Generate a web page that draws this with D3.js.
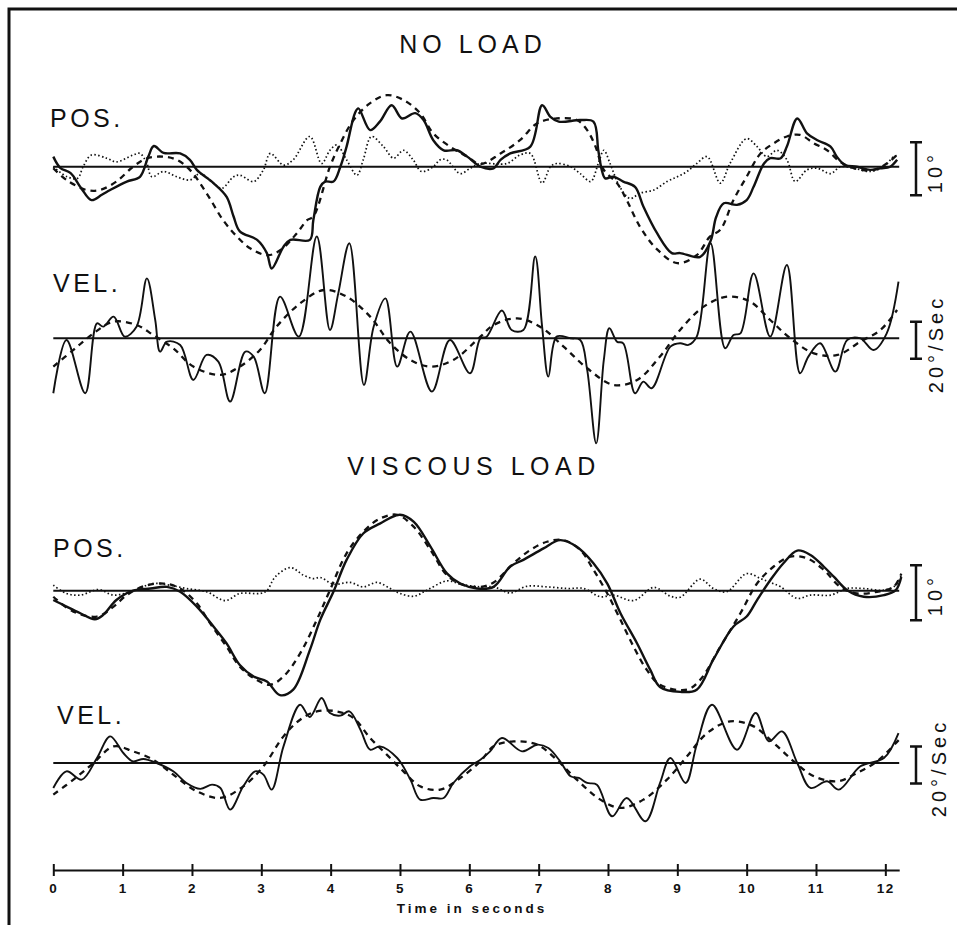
<!DOCTYPE html>
<html>
<head>
<meta charset="utf-8">
<script src="https://cdn.jsdelivr.net/npm/d3@7"></script>
<style>
  body { margin: 0; background: #fff; }
  svg text { font-family: "Liberation Sans", Arial, sans-serif; fill: #111; }
</style>
</head>
<body>
<script>
// Time axis ticks (seconds)
var timeTicks = [0, 1, 2, 3, 4, 5, 6, 7, 8, 9, 10, 11, 12];

// NO LOAD - position (deg): actual, target, dotted trace
var noLoadPosActual = [[0,1.9],[0.1,-0.2],[0.25,-1.2],[0.4,-4],[0.55,-6.3],[0.7,-5.3],[0.82,-4.4],[1.06,-2.8],[1.25,-1.9],[1.37,1.9],[1.45,3.9],[1.59,2.6],[1.83,2.5],[1.97,1.3],[2.07,-0.6],[2.31,-3.1],[2.5,-5.7],[2.6,-9.4],[2.69,-12.2],[2.94,-13.8],[3.08,-16.3],[3.15,-19.2],[3.32,-15.1],[3.42,-13.8],[3.7,-13.8],[3.75,-10.1],[3.85,-3.8],[3.92,-2.8],[4.04,-2.8],[4.14,0],[4.23,3.8],[4.35,10.1],[4.4,11],[4.57,6.9],[4.71,8.5],[4.88,11.6],[5.03,9.1],[5.22,10.1],[5.34,8.8],[5.48,5],[5.63,3.1],[5.82,3.1],[5.97,1.9],[6.16,0],[6.35,-0.3],[6.45,1.3],[6.59,2.5],[6.88,3.8],[7.05,11.6],[7.17,9.4],[7.29,8.5],[7.6,8.8],[7.79,8.5],[7.86,3.1],[7.91,-0.6],[7.96,-2.2],[8.08,-1.9],[8.22,-2.8],[8.39,-3.8],[8.51,-7.5],[8.71,-12.6],[8.92,-16.3],[9.04,-16.3],[9.33,-17],[9.48,-14],[9.56,-9.5],[9.67,-6.9],[9.86,-7.2],[10.0,-6.3],[10.1,-3.8],[10.25,0.6],[10.34,1.6],[10.49,1.6],[10.58,3.8],[10.73,9.1],[10.87,6.3],[11.02,5],[11.21,3.8],[11.3,1.9],[11.42,0.3],[11.59,0],[11.78,-0.6],[11.93,-0.3],[12.07,0],[12.17,1.3]];
var noLoadPosTarget = [[0,-0.3],[0.19,-2.5],[0.48,-4.4],[0.67,-4.4],[0.91,-2.8],[1.15,0],[1.35,1.6],[1.59,1.9],[1.78,1.3],[1.97,-0.6],[2.21,-5],[2.45,-10.1],[2.65,-13.2],[2.85,-15.5],[3.1,-16.7],[3.3,-15.5],[3.51,-12.6],[3.66,-10.1],[3.75,-9.4],[3.99,0],[4.14,4.4],[4.33,8.8],[4.57,12],[4.81,13.5],[5.05,12.6],[5.29,10.1],[5.48,6.3],[5.72,3.8],[5.97,1.9],[6.16,0.5],[6.45,2.5],[6.73,5],[6.98,8.2],[7.26,9.1],[7.55,8.8],[7.7,6.9],[7.82,3.8],[7.94,-0.6],[8.13,-3.1],[8.27,-6.3],[8.46,-11.3],[8.7,-15.5],[9.0,-18.2],[9.28,-16.7],[9.47,-13.2],[9.62,-11.9],[9.81,-6.3],[10.0,-1.9],[10.2,2.5],[10.39,4.4],[10.58,5.7],[10.77,6],[10.97,4.4],[11.16,3.1],[11.35,0.9],[11.55,-0.3],[11.83,-0.6],[12.02,0.6],[12.19,2.5]];
var noLoadPosDotted = [[0,0],[0.2,-1.9],[0.35,-2.2],[0.43,0],[0.55,2.2],[0.77,1.6],[0.91,0.9],[1.15,2.2],[1.25,2.5],[1.35,0.6],[1.42,-1.9],[1.59,-0.9],[1.78,-1.9],[1.97,-2.5],[2.12,-1.3],[2.31,-3.1],[2.43,-4.1],[2.6,-1.9],[2.69,-1.6],[2.89,-2.8],[3.03,-0.6],[3.13,2.5],[3.32,0.3],[3.46,1.3],[3.7,5.7],[3.87,0.6],[3.99,3.1],[4.09,4.1],[4.23,1.3],[4.38,-1.6],[4.47,1.3],[4.59,5.7],[4.76,3.8],[4.91,1.6],[5.05,3.1],[5.19,1.3],[5.31,-0.9],[5.48,0],[5.58,1.3],[5.67,1.3],[5.87,-1.3],[6.01,-0.3],[6.16,0.6],[6.54,0.6],[6.73,2.2],[6.88,2.5],[7.05,-3.1],[7.17,0],[7.26,0.6],[7.46,0],[7.6,-1.3],[7.75,-2.8],[7.86,0.6],[7.94,3.1],[8.03,0.6],[8.17,-3.8],[8.32,-6],[8.46,-5],[8.66,-4.4],[8.85,-2.8],[9.0,-1.9],[9.14,-0.9],[9.28,0.6],[9.43,1.9],[9.62,-3.1],[9.76,0.6],[10.0,5.3],[10.15,3.8],[10.29,1.9],[10.44,3.1],[10.58,1.3],[10.7,-2.8],[10.87,-0.6],[11.02,-0.3],[11.21,-1.3],[11.35,0],[11.55,-0.3],[11.78,-0.9],[11.98,0],[12.12,1.9],[12.19,2.2]];

// NO LOAD - velocity (deg/sec): actual, target
var noLoadVelActual = [[0,-29.7],[0.19,-0.9],[0.46,-29.7],[0.63,8.1],[0.72,6.3],[0.87,11.7],[1.03,0.9],[1.2,6.3],[1.35,32.4],[1.47,9.9],[1.54,-7.2],[1.64,-1.8],[1.83,-3.6],[2.02,-22.5],[2.21,-9],[2.38,-12.6],[2.55,-34.2],[2.77,-7.2],[2.89,-9.9],[3.05,-29.7],[3.27,22.5],[3.54,0.9],[3.8,55],[3.99,4.5],[4.11,24.3],[4.27,51.4],[4.48,-25.2],[4.62,6.3],[4.79,21.6],[4.96,-15.3],[5.15,3.6],[5.46,-28.8],[5.72,-0.9],[6.01,-18.9],[6.16,0],[6.25,0.9],[6.47,15],[6.61,4.5],[6.78,4.5],[6.95,44.2],[7.05,6.3],[7.14,-20.7],[7.26,0.9],[7.46,0],[7.6,-0.9],[7.7,-17.1],[7.83,-56.8],[7.94,-11.7],[8.02,5.4],[8.13,-1.8],[8.22,-2.7],[8.39,-29.7],[8.51,-23.4],[8.63,-27],[8.9,-4.5],[9.04,-2.7],[9.16,-3.6],[9.28,0.9],[9.48,51.4],[9.69,-5.4],[9.81,1.8],[9.91,2.7],[10.1,35.1],[10.34,0.9],[10.58,39.6],[10.77,-18.9],[10.89,-9.9],[11.06,-2.7],[11.28,-18],[11.45,-0.9],[11.64,0],[11.83,-6.3],[12.02,2.7],[12.19,30.6]];
var noLoadVelTarget = [[0,-15.3],[0.29,-6.3],[0.58,2.7],[0.87,9],[1.2,7.2],[1.44,1.8],[1.73,-5.4],[2.02,-15.3],[2.41,-19.8],[2.69,-15.3],[2.98,-6.3],[3.22,6.3],[3.56,18.9],[3.9,26.1],[4.23,22.5],[4.57,11.7],[4.86,-2.7],[5.15,-11.7],[5.44,-15.3],[5.77,-11.7],[6.16,0.9],[6.35,7.2],[6.69,10.8],[7.02,6.3],[7.36,-4.5],[7.7,-16.2],[8.08,-25.2],[8.42,-22.5],[8.75,-9.9],[9.04,4.5],[9.38,17.1],[9.72,22.5],[10.05,19.8],[10.34,9.9],[10.63,0],[10.97,-8.1],[11.31,-9],[11.64,-1.8],[11.93,4.5],[12.17,15.3]];

// VISCOUS LOAD - position (deg): actual, target, dotted trace
var viscPosActual = [[0,-1.7],[0.19,-2.9],[0.39,-4.1],[0.6,-5.2],[0.72,-4.4],[0.91,-1.7],[1.15,0],[1.4,0.4],[1.64,0.7],[1.83,-0.2],[2.07,-2.9],[2.31,-6.5],[2.5,-9.6],[2.69,-13.5],[2.89,-15.6],[3.08,-16.5],[3.27,-19],[3.46,-18],[3.7,-10.8],[3.85,-5.3],[4.04,-0.2],[4.23,5.6],[4.47,10.4],[4.71,12.2],[5.0,13.8],[5.2,12.5],[5.44,8],[5.68,3.1],[5.87,1.3],[6.11,0.4],[6.35,0.7],[6.59,4.4],[6.78,5.6],[7.07,7.7],[7.31,9.2],[7.55,8],[7.79,5],[7.99,1.3],[8.18,-4.1],[8.42,-9.6],[8.61,-14.4],[8.75,-17.5],[9.04,-18.4],[9.28,-18],[9.52,-12.5],[9.81,-6.5],[10.0,-4.7],[10.15,-1.7],[10.34,1.9],[10.53,5],[10.73,7.3],[10.92,6.5],[11.11,4.4],[11.26,2.5],[11.45,0.1],[11.69,-1.1],[11.98,-0.8],[12.15,0.1],[12.23,2.5]];
var viscPosTarget = [[0,-1.1],[0.29,-3.8],[0.63,-4.7],[0.87,-2.9],[1.06,-0.8],[1.3,0.8],[1.59,1.3],[1.83,0.4],[2.07,-2.3],[2.26,-5.9],[2.5,-10.2],[2.69,-13.8],[2.93,-16.2],[3.13,-17.1],[3.32,-15.6],[3.56,-11.4],[3.8,-5.3],[3.99,0.1],[4.23,6.8],[4.47,10.7],[4.71,13.1],[4.96,13.8],[5.2,11.6],[5.44,7.4],[5.68,2.8],[5.92,1],[6.16,0.7],[6.35,1.5],[6.64,5],[6.88,7.4],[7.12,8.9],[7.36,9.2],[7.6,7.4],[7.79,3.8],[7.99,-0.5],[8.18,-5.3],[8.37,-10.2],[8.56,-14.4],[8.75,-17.1],[9.14,-18],[9.33,-16.2],[9.62,-10.2],[9.91,-4.1],[10.15,1.3],[10.39,4.4],[10.63,6.2],[10.87,5.9],[11.11,3.8],[11.35,0.7],[11.59,-0.5],[11.88,-0.2],[12.12,0.7],[12.23,3.1]];
var viscPosDotted = [[0,1],[0.19,-0.5],[0.39,-0.8],[0.65,0.2],[0.87,-0.8],[1.15,0],[1.44,1.3],[1.68,1],[1.92,0.4],[2.21,-0.2],[2.48,-1.8],[2.69,-0.5],[2.98,-0.5],[3.08,0],[3.2,2.5],[3.42,4.2],[3.61,2.8],[3.75,2.2],[3.85,2.4],[4.04,1.2],[4.28,1.5],[4.47,0.7],[4.67,1.5],[4.86,0.4],[5.0,-0.5],[5.2,-1],[5.39,0.1],[5.68,1.8],[5.87,1.2],[6.16,0.7],[6.35,0.7],[6.59,-0.4],[6.83,0.8],[7.12,0.7],[7.41,0.4],[7.65,0.4],[7.89,-1.1],[8.08,-0.8],[8.37,-1.8],[8.66,0.6],[8.9,-1],[9.04,-1.2],[9.33,2.1],[9.52,0.4],[9.71,-0.2],[10.0,3.1],[10.2,2.2],[10.34,1.5],[10.49,0.7],[10.73,-1.4],[10.92,-0.8],[11.21,-0.8],[11.45,0.4],[11.69,0.4],[11.98,0.1],[12.15,1],[12.23,2.8]];

// VISCOUS LOAD - velocity (deg/sec): actual, target
var viscVelActual = [[0,-13.5],[0.19,-4.5],[0.41,-9],[0.63,2.7],[0.82,14.4],[1.01,5.4],[1.15,0.9],[1.3,2.2],[1.49,0],[1.73,-4.5],[1.92,-10.8],[2.12,-14],[2.29,-11.7],[2.41,-13.5],[2.55,-25.2],[2.74,-12.6],[2.91,-4.5],[3.03,-6.3],[3.15,-14.4],[3.32,9],[3.56,31.5],[3.7,24.9],[3.87,35.1],[3.99,27],[4.14,25.6],[4.27,27.9],[4.43,18],[4.57,7.2],[4.71,9],[4.96,2.7],[5.15,-9],[5.29,-19.8],[5.48,-18.9],[5.63,-18.9],[5.77,-10.8],[6.01,-1.8],[6.16,1.8],[6.3,6.3],[6.47,13.5],[6.76,6.3],[6.98,9.9],[7.14,8.1],[7.31,0.9],[7.46,-7.2],[7.58,-8.1],[7.7,-10.8],[7.84,-11.7],[8.06,-28.8],[8.27,-18.9],[8.54,-31.5],[8.75,-10.8],[8.9,2.7],[9.12,-10.8],[9.28,9.9],[9.5,31.5],[9.86,7.2],[10.13,27],[10.32,11.7],[10.51,17.1],[10.73,0],[10.92,-13.5],[11.16,-9.9],[11.33,-14.4],[11.64,-1.8],[11.98,2.7],[12.19,16.2]];
var viscVelTarget = [[0,-17.1],[0.29,-9],[0.58,0],[0.87,9],[1.15,6.3],[1.44,1.8],[1.73,-6.3],[2.07,-15.3],[2.41,-18.9],[2.74,-12.6],[3.03,-1.8],[3.32,14.4],[3.56,23.4],[3.8,27.9],[4.09,27.9],[4.33,24.3],[4.57,13.5],[4.81,4.5],[5.05,-4.5],[5.29,-12.6],[5.58,-14.4],[5.87,-8.1],[6.16,0.9],[6.35,9],[6.64,11.7],[6.98,9.9],[7.26,1.8],[7.55,-9],[7.89,-19.8],[8.18,-24.3],[8.51,-19.8],[8.85,-9],[9.14,3.6],[9.43,16.2],[9.76,22.5],[10.1,19.8],[10.39,10.8],[10.68,0.9],[10.97,-7.2],[11.31,-9.9],[11.59,-5.4],[11.88,0.9],[12.22,13.5]];

var width = 959, height = 925;

var svg = d3.select("body").
            append("svg").
            attr("width", width).
            attr("height", height);

svg.append("rect").attr("width", width).attr("height", height).attr("fill", "#fff");

// Frame (top and left edge of the plate)
svg.append("path").
    attr("d", "M9,925 L9,9 L957,9").
    attr("fill", "none").
    attr("stroke", "#111").
    attr("stroke-width", 3);

// Shared time scale
var x = d3.scaleLinear().domain([0, 12.2]).range([53.3, 899.2]);

// Line styles
var styles = {
    solid:  { width: 2.4, dash: null },
    thin:   { width: 1.9, dash: null },
    dashed: { width: 2.3, dash: "6,5" },
    dotted: { width: 1.7, dash: "1.5,2.4" }
};

// One panel per trace group
var panels = [
    { base: 166.7, px: 5.3, label: "POS.", lx: 50, ly: 127, bar: 10, barText: "10°", tx: 942, ty: 172,
      series: [[noLoadPosDotted, "dotted"], [noLoadPosTarget, "dashed"], [noLoadPosActual, "solid"]] },
    { base: 338.3, px: 1.85, label: "VEL.", lx: 53, ly: 292, bar: 20, barText: "20°/Sec", tx: 943, ty: 344,
      series: [[noLoadVelTarget, "dashed"], [noLoadVelActual, "thin"]] },
    { base: 590.7, px: 5.5, label: "POS.", lx: 53, ly: 557, bar: 10, barText: "10°", tx: 942, ty: 595,
      series: [[viscPosDotted, "dotted"], [viscPosTarget, "dashed"], [viscPosActual, "solid"]] },
    { base: 763, px: 1.85, label: "VEL.", lx: 57, ly: 724, bar: 20, barText: "20°/Sec", tx: 946, ty: 768,
      series: [[viscVelTarget, "dashed"], [viscVelActual, "thin"]] }
];

panels.forEach(function(p) {

    var y = d3.scaleLinear().domain([-1, 1]).range([p.base + p.px, p.base - p.px]);
    var g = svg.append("g");

    // zero line
    g.append("line").
        attr("x1", x(0)).attr("x2", x(12.2)).
        attr("y1", y(0)).attr("y2", y(0)).
        attr("stroke", "#111").
        attr("stroke-width", 2);

    var line = d3.line().
        x(function(d) { return x(d[0]); }).
        y(function(d) { return y(d[1]); }).
        curve(d3.curveCatmullRom.alpha(0.5));

    p.series.forEach(function(s) {
        var st = styles[s[1]];
        g.append("path").
            datum(s[0]).
            attr("d", line).
            attr("fill", "none").
            attr("stroke", "#111").
            attr("stroke-width", st.width).
            attr("stroke-linejoin", "round").
            attr("stroke-dasharray", st.dash);
    });

    // panel label
    g.append("text").
        attr("x", p.lx).attr("y", p.ly).
        style("font-size", "25px").
        style("letter-spacing", "3.5px").
        text(p.label);

    // calibration bar
    var bx = 916, yTop = y(p.bar / 2) + 2, yBot = y(-p.bar / 2) + 2;
    g.append("path").
        attr("d", "M" + (bx - 6) + "," + yTop + "H" + (bx + 6) +
                  "M" + bx + "," + yTop + "V" + yBot +
                  "M" + (bx - 6) + "," + yBot + "H" + (bx + 6)).
        attr("fill", "none").
        attr("stroke", "#111").
        attr("stroke-width", 2.5);

    g.append("text").
        attr("transform", "translate(" + p.tx + "," + p.ty + ") rotate(-90)").
        attr("text-anchor", "middle").
        style("font-size", "20px").
        style("letter-spacing", "4px").
        text(p.barText);
});

// Section titles
svg.append("text").
    attr("x", 473).attr("y", 53).
    attr("text-anchor", "middle").
    style("font-size", "25px").
    style("letter-spacing", "5px").
    text("NO LOAD");

svg.append("text").
    attr("x", 474).attr("y", 475).
    attr("text-anchor", "middle").
    style("font-size", "25px").
    style("letter-spacing", "5.5px").
    text("VISCOUS LOAD");

// Time axis
var axis = d3.axisBottom(x).
    tickValues(timeTicks).
    tickFormat(d3.format("d")).
    tickSizeInner(6).
    tickSizeOuter(0).
    tickPadding(7);

var ax = svg.append("g").
    attr("transform", "translate(0,870)").
    call(axis);

ax.select(".domain").attr("stroke", "#111").attr("stroke-width", 2.2);
ax.selectAll(".tick line").attr("y1", -6).attr("y2", 6).attr("stroke", "#111").attr("stroke-width", 2);
ax.selectAll(".tick text").
    style("font-size", "13.5px").
    style("font-weight", "bold").
    style("font-family", "'Liberation Sans', Arial, sans-serif").
    style("letter-spacing", "1.5px").
    attr("fill", "#111");

svg.append("text").
    attr("x", 472).attr("y", 913).
    attr("text-anchor", "middle").
    style("font-size", "13.5px").
    style("font-weight", "bold").
    style("letter-spacing", "3px").
    text("Time in seconds");
</script>
</body>
</html>
